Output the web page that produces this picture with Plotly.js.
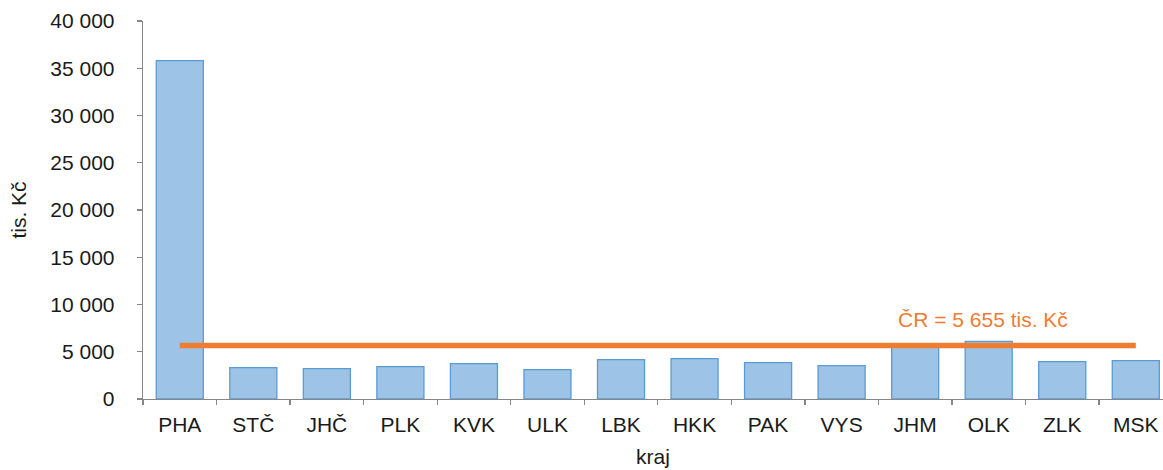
<!DOCTYPE html>
<html>
<head>
<meta charset="utf-8">
<script src="https://cdn.plot.ly/plotly-3.0.1.min.js"></script>
<style>
  html, body { margin: 0; padding: 0; overflow: hidden; background: #fff; }
  #chart { width: 1163px; height: 470px; }
</style>
</head>
<body>
<div id="chart"></div>
<script>
const categories = ["PHA", "STČ", "JHČ", "PLK", "KVK", "ULK", "LBK", "HKK", "PAK", "VYS", "JHM", "OLK", "ZLK", "MSK"];
const values = [35800, 3320, 3215, 3430, 3745, 3110, 4170, 4275, 3850, 3535, 5600, 6105, 3960, 4065];
const crValue = 5655;
const crLabel = "ČR = 5 655 tis. Kč";
const yTitle = "tis. Kč";
const xTitle = "kraj";

const font = "Liberation Sans, Arial, sans-serif";
const textColor = "#1a1a1a";
const axisColor = "#868686";

const bars = {
  type: "bar",
  x: categories,
  y: values,
  width: 0.64,
  marker: { color: "#9DC3E6", line: { color: "#5B9BD5", width: 1.3 } },
  hoverinfo: "x+y",
  showlegend: false
};

const crLine = {
  type: "scatter",
  mode: "lines",
  x: categories,
  y: categories.map(() => crValue),
  line: { color: "#ED7D31", width: 5.5 },
  hoverinfo: "y",
  showlegend: false
};

const layout = {
  width: 1163,
  height: 470,
  margin: { l: 143, r: 0, t: 21, b: 71, pad: 0 },
  paper_bgcolor: "#ffffff",
  plot_bgcolor: "#ffffff",
  separators: ", ",
  font: { family: font, size: 21, color: textColor },
  xaxis: {
    type: "category",
    range: [-0.5, 13.37],
    tickson: "boundaries",
    ticks: "outside",
    ticklen: 5,
    tickcolor: axisColor,
    tickwidth: 1.3,
    showline: true,
    linecolor: axisColor,
    linewidth: 1.3,
    showgrid: false,
    zeroline: false,
    ticklabelstandoff: 6,
    tickfont: { family: font, size: 21, color: textColor },
    title: { text: xTitle, font: { family: font, size: 21, color: textColor }, standoff: 14 }
  },
  yaxis: {
    range: [0, 40000],
    dtick: 5000,
    tickformat: ",d",
    ticks: "outside",
    ticklen: 5,
    tickcolor: axisColor,
    tickwidth: 1.3,
    showline: true,
    linecolor: axisColor,
    linewidth: 1.3,
    showgrid: false,
    zeroline: false,
    ticklabelstandoff: 18,
    tickfont: { family: font, size: 21, color: textColor },
    title: { text: yTitle, font: { family: font, size: 21, color: textColor }, standoff: 18 }
  },
  annotations: [{
    xref: "x", yref: "y",
    x: "OLK", y: crValue,
    xshift: -6, yshift: 26,
    text: crLabel,
    showarrow: false,
    font: { family: font, size: 21, color: "#ED7D31" }
  }],
  bargap: 0.36
};

Plotly.newPlot("chart", [bars, crLine], layout, { displayModeBar: false, staticPlot: true });
</script>
</body>
</html>
